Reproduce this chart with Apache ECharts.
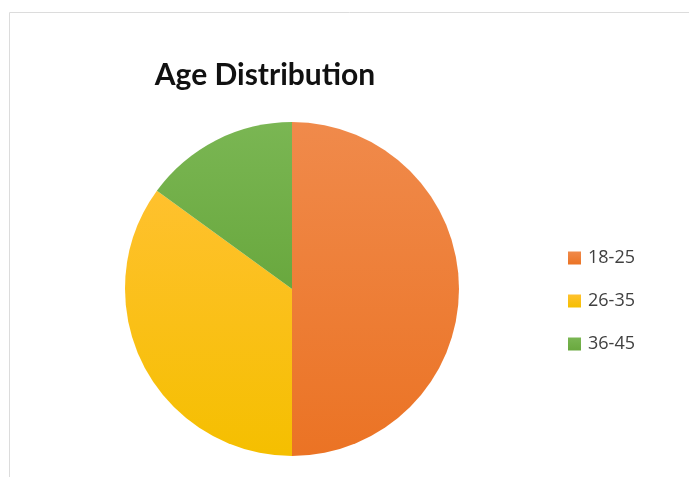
<!DOCTYPE html>
<html>
<head>
<meta charset="utf-8">
<script src="https://cdn.jsdelivr.net/npm/echarts@6/dist/echarts.min.js"></script>
<style>
  html, body { margin: 0; padding: 0; background: #fff; }
  #chart { width: 689px; height: 477px; }
</style>
</head>
<body>
<div id="chart"></div>
<script>
// age groups and their share
const ageGroups = ['18-25', '26-35', '36-45']
const shares = [50, 35, 15]
// top / bottom colours of each slice gradient
const topColors = ['#f08a4b', '#ffc12e', '#7ab653']
const bottomColors = ['#eb7324', '#f5bf00', '#69a83e']

const chart = echarts.init(document.getElementById('chart'))

const option = {
  animation: false,
  title: {
    text: 'Age Distribution',
    left: 260,
    top: 55,
    textAlign: 'center',
    textStyle: {
      fontFamily: 'Lato',
      fontWeight: 'bold',
      fontSize: 30,
      color: '#111'
    }
  },
  legend: {
    orient: 'vertical',
    left: 563,
    top: 244,
    itemWidth: 13,
    itemHeight: 13,
    itemGap: 25,
    icon: 'rect',
    textStyle: {
      fontFamily: 'Open Sans',
      fontSize: 18,
      color: '#404040',
      padding: [0, 0, 0, 2]
    },
    data: ageGroups
  },
  graphic: [
    {
      type: 'polyline',
      shape: { points: [[9.5, 480], [9.5, 12.5], [700, 12.5]] },
      style: { stroke: '#dcdcdc', lineWidth: 1, fill: null }
    }
  ],
  series: [
    {
      type: 'pie',
      center: [292, 289],
      radius: 167,
      startAngle: 90,
      clockwise: true,
      label: { show: false },
      labelLine: { show: false },
      emphasis: { disabled: true },
      itemStyle: { borderWidth: 0 },
      data: ageGroups.map((name, i) => ({
        name: name,
        value: shares[i],
        itemStyle: {
          color: new echarts.graphic.LinearGradient(0, 0, 0, 1, [
            { offset: 0, color: topColors[i] },
            { offset: 1, color: bottomColors[i] }
          ])
        }
      }))
    }
  ]
}

chart.setOption(option)
</script>
</body>
</html>
